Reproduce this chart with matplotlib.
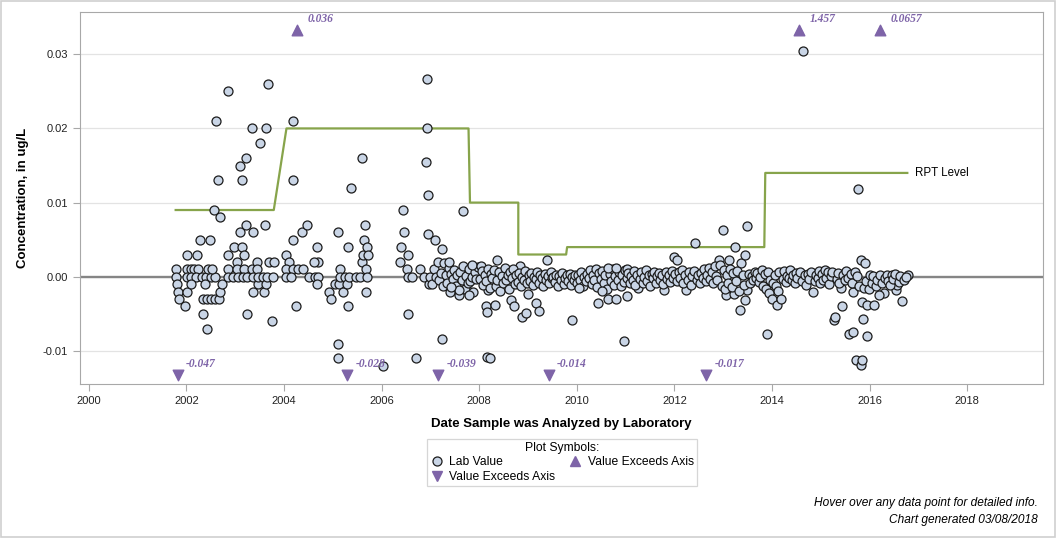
import matplotlib
matplotlib.use("Agg")
from matplotlib import pyplot as plt
from matplotlib.lines import Line2D
import matplotlib.transforms as mtransforms

plt.rcParams['font.family'] = ['Liberation Sans', 'DejaVu Sans']

# lab values, early years (reported to 0.001)
dates_early = [2001.78, 2001.79, 2001.80, 2001.82, 2001.84, 2001.97, 2002.01, 2002.21, 2002.01, 2002.09,
               2002.15, 2002.23, 2002.01, 2002.10, 2002.19, 2002.31, 2002.40, 2002.50, 2002.58, 2002.01,
               2002.09, 2002.27, 2002.48, 2002.38, 2002.33, 2002.42, 2002.50, 2002.58, 2002.66, 2002.68,
               2002.72, 2002.33, 2002.42, 2002.45, 2002.52, 2002.56, 2002.60, 2002.64, 2002.68, 2002.85,
               2002.85, 2002.85, 2002.85, 2002.97, 2003.03, 2003.03, 2002.95, 2003.09, 2003.13, 2003.09,
               2003.13, 2003.17, 2003.17, 2003.05, 2003.15, 2003.23, 2003.23, 2003.25, 2003.34, 2003.34,
               2003.25, 2003.36, 2003.36, 2003.44, 2003.44, 2003.46, 2003.36, 2003.46, 2003.50, 2003.56,
               2003.60, 2003.62, 2003.64, 2003.64, 2003.66, 2003.68, 2003.70, 2003.75, 2003.77, 2003.79,
               2004.05, 2004.11, 2004.05, 2004.18, 2004.28, 2004.38, 2004.05, 2004.15, 2004.18, 2004.18,
               2004.18, 2004.24, 2004.36, 2004.48, 2004.52, 2004.63, 2004.69, 2004.67, 2004.69, 2004.61,
               2004.67, 2004.93, 2004.97, 2005.04, 2005.10, 2005.10, 2005.10, 2005.12, 2005.14, 2005.14,
               2005.20, 2005.24, 2005.30, 2005.32, 2005.32, 2005.34, 2005.38, 2005.47, 2005.55, 2005.59,
               2005.59, 2005.61, 2005.63, 2005.65, 2005.67, 2005.67, 2005.71, 2005.73, 2005.69, 2006.02,
               2006.37, 2006.39, 2006.43, 2006.45, 2006.53, 2006.51, 2006.55, 2006.55, 2006.63, 2006.71,
               2006.78, 2006.90, 2006.92, 2006.92, 2006.94, 2006.94, 2006.86, 2006.98, 2007.10, 2007.23,
               2007.23]
conc_early = [0.001, 0.0, -0.001, -0.002, -0.003, -0.004, 0.003, 0.003, 0.001, 0.001,
              0.001, 0.001, 0.0, 0.0, 0.0, 0.0, 0.0, 0.0, 0.0, -0.002,
              -0.001, 0.005, 0.005, -0.001, -0.003, -0.003, -0.003, -0.003, -0.003, -0.002,
              -0.001, -0.005, -0.007, 0.001, 0.001, 0.009, 0.021, 0.013, 0.008, 0.025,
              0.003, 0.001, 0.0, 0.004, 0.002, 0.001, 0.0, 0.015, 0.013, 0.006,
              0.004, 0.003, 0.001, 0.0, 0.0, 0.016, 0.007, -0.005, 0.020, 0.001,
              0.0, 0.006, -0.002, 0.002, 0.001, -0.001, 0.0, 0.0, 0.018, 0.0,
              -0.002, 0.007, 0.020, -0.001, 0.0, 0.026, 0.002, -0.006, 0.0, 0.002,
              0.003, 0.002, 0.001, 0.001, 0.001, 0.001, 0.0, 0.0, 0.005, 0.021,
              0.013, -0.004, 0.006, 0.007, 0.0, 0.0, 0.0, 0.004, 0.002, 0.002,
              -0.001, -0.002, -0.003, -0.001, 0.006, -0.009, -0.011, -0.001, 0.001, 0.0,
              -0.002, 0.0, -0.001, 0.004, -0.004, 0.0, 0.012, 0.0, 0.0, 0.016,
              0.002, 0.003, 0.005, 0.007, -0.002, 0.001, 0.004, 0.003, 0.0, -0.012,
              0.002, 0.004, 0.009, 0.006, 0.003, 0.001, 0.0, -0.005, 0.0, -0.011,
              0.001, 0.0155, 0.0267, 0.020, 0.011, 0.0058, 0.0, -0.001, 0.0049, 0.0038,
              -0.0084]

# lab values, later years
dates_late = [2007.00, 2007.04, 2007.08, 2007.12, 2007.15, 2007.18, 2007.22, 2007.25, 2007.28, 2007.31,
              2007.34, 2007.37, 2007.40, 2007.43, 2007.46, 2007.49, 2007.52, 2007.55, 2007.58, 2007.61,
              2007.64, 2007.67, 2007.70, 2007.73, 2007.76, 2007.79, 2007.82, 2007.85, 2007.88, 2007.91,
              2007.94, 2007.97, 2007.66, 2007.39, 2007.86, 2008.04, 2008.13, 2008.15, 2008.15, 2008.21,
              2008.33, 2008.37, 2008.17, 2007.80, 2007.59, 2007.43, 2008.66, 2008.72, 2008.84, 2008.88,
              2008.95, 2008.99, 2009.17, 2009.23, 2009.38, 2009.89,
              2008.02, 2008.05, 2008.08, 2008.11, 2008.14, 2008.18, 2008.21, 2008.24, 2008.27, 2008.30,
              2008.34, 2008.37, 2008.40, 2008.43, 2008.46, 2008.49, 2008.52, 2008.55, 2008.58, 2008.61,
              2008.64, 2008.67, 2008.70, 2008.73, 2008.76, 2008.79, 2008.82, 2008.85, 2008.88, 2008.91,
              2008.94, 2008.97,
              2009.01, 2009.04, 2009.07, 2009.10, 2009.13, 2009.16, 2009.19, 2009.22, 2009.25, 2009.28,
              2009.31, 2009.34, 2009.37, 2009.40, 2009.43, 2009.46, 2009.49, 2009.52, 2009.55, 2009.58,
              2009.61, 2009.64, 2009.67, 2009.70, 2009.73, 2009.76, 2009.79, 2009.82, 2009.85, 2009.88,
              2009.91, 2009.94, 2009.97,
              2010.00, 2010.03, 2010.06, 2010.09, 2010.12, 2010.15, 2010.18, 2010.21, 2010.24, 2010.27,
              2010.30, 2010.33, 2010.36, 2010.39, 2010.42, 2010.46, 2010.49, 2010.52, 2010.55, 2010.58,
              2010.61, 2010.67, 2010.70, 2010.73, 2010.76, 2010.79, 2010.84, 2010.87, 2010.90, 2010.93,
              2010.96, 2010.99,
              2010.05, 2010.44, 2010.52, 2010.64, 2010.81, 2011.03, 2010.64, 2010.81, 2011.03, 2010.97,
              2011.26, 2011.79, 2012.00, 2012.06, 2012.24, 2012.43, 2012.92, 2013.00, 2013.06, 2013.12,
              2013.22, 2013.24, 2013.35, 2013.37, 2013.45, 2013.49, 2013.45, 2013.49,
              2011.02, 2011.05, 2011.08, 2011.11, 2011.14, 2011.17, 2011.20, 2011.23, 2011.29, 2011.32,
              2011.35, 2011.38, 2011.41, 2011.44, 2011.47, 2011.50, 2011.53, 2011.56, 2011.59, 2011.62,
              2011.65, 2011.68, 2011.71, 2011.74, 2011.77, 2011.82, 2011.85, 2011.88, 2011.91, 2011.94,
              2011.97,
              2012.02, 2012.05, 2012.09, 2012.12, 2012.15, 2012.18, 2012.21, 2012.27, 2012.30, 2012.33,
              2012.36, 2012.39, 2012.46, 2012.49, 2012.52, 2012.55, 2012.58, 2012.61, 2012.64, 2012.67,
              2012.70, 2012.73, 2012.76, 2012.79, 2012.82, 2012.85, 2012.88, 2012.94, 2012.97,
              2013.02, 2013.04, 2013.08, 2013.10, 2013.14, 2013.17, 2013.20, 2013.26, 2013.29, 2013.32,
              2013.40, 2013.43, 2013.52, 2013.55, 2013.58, 2013.61, 2013.64, 2013.67, 2013.70, 2013.73,
              2013.76, 2013.79,
              2013.82, 2013.85, 2013.88, 2013.92, 2013.96, 2014.02, 2014.05, 2014.08, 2014.12, 2014.15,
              2014.22, 2014.25, 2014.28, 2014.31, 2014.34, 2014.37, 2014.40, 2014.43, 2014.46, 2014.49,
              2014.52, 2014.58, 2014.61, 2014.67, 2014.70, 2014.73, 2014.76, 2014.79, 2014.87, 2014.90,
              2014.93, 2014.96, 2014.99,
              2013.90, 2013.94, 2014.00, 2014.10, 2014.19, 2014.84, 2014.64, 2015.27, 2015.29, 2015.43,
              2015.58, 2015.66, 2015.72, 2015.82, 2015.84, 2015.86, 2015.95, 2015.84, 2015.95, 2016.09,
              2015.76, 2015.82, 2015.91, 2016.66, 2016.79, 2015.66, 2015.41, 2016.54, 2016.56, 2016.29,
              2016.19,
              2015.02, 2015.05, 2015.08, 2015.11, 2015.14, 2015.17, 2015.20, 2015.23, 2015.32, 2015.35,
              2015.38, 2015.46, 2015.49, 2015.52, 2015.55, 2015.61, 2015.64, 2015.69, 2015.74, 2015.79,
              2015.88, 2015.92, 2015.98, 2016.01, 2016.04, 2016.07, 2016.12, 2016.15, 2016.22, 2016.25,
              2016.32, 2016.35, 2016.38, 2016.42, 2016.45, 2016.48, 2016.51, 2016.59, 2016.62, 2016.70,
              2016.74]
conc_late = [0.0, -0.001, 0.001, 0.0, 0.002, -0.0005, 0.0005, -0.0013, 0.0019, 0.0002,
             -0.0008, 0.0012, -0.002, 0.0004, -0.0003, 0.0009, -0.0012, 0.0003, -0.0025, 0.0006,
             -0.0004, 0.0015, -0.0017, 0.0001, -0.0009, 0.0011, -0.0006, 0.0, -0.0021, 0.0007,
             -0.0003, 0.0013, 0.0088, 0.002, 0.0016, 0.0014, -0.004, -0.0047, -0.0108, -0.011,
             -0.0038, 0.0023, -0.0018, -0.0024, -0.0018, -0.0014, -0.0031, -0.0039, 0.0014, -0.0054,
             -0.0049, -0.0023, -0.0036, -0.0046, 0.0022, -0.0058,
             -0.0003, 0.0008, -0.0011, 0.0002, -0.0006, 0.0011, -0.0015, 0.0004, -0.0002, 0.0009,
             -0.0012, -0.0004, 0.0006, -0.0019, 0.0001, -0.0008, 0.0012, -0.0005, 0.0003, -0.0016,
             0.0007, -0.0002, 0.001, -0.001, 0.0003, -0.0007, 0.0005, -0.0013, 0.0, -0.0004,
             0.0008, -0.0009,
             0.0002, -0.0006, 0.0005, -0.0011, 0.0, -0.0003, 0.0007, -0.0008, 0.0003, -0.0001,
             -0.0012, 0.0004, -0.0005, 0.0001, -0.0009, 0.0006, -0.0002, 0.0, -0.0007, 0.0003,
             -0.0013, 0.0001, -0.0004, 0.0005, -0.001, -0.0002, 0.0002, -0.0006, 0.0004, -0.0011,
             0.0, -0.0005, 0.0003,
             -0.0008, 0.0002, -0.0004, 0.0006, -0.0012, 0.0, -0.0006, 0.0004, -0.0002, 0.0009,
             -0.001, 0.0003, -0.0005, 0.0011, -0.0014, 0.0005, -0.0003, 0.0008, -0.0009, 0.0002,
             -0.0017, 0.0004, -0.0006, 0.001, -0.0011, 0.0001, -0.0004, 0.0007, -0.0013, 0.0003,
             -0.0007, 0.0009,
             -0.0015, -0.0036, -0.0019, -0.003, -0.003, -0.0026, 0.0012, 0.0012, 0.0011, -0.0087,
             -0.0015, -0.0018, 0.0027, 0.0022, -0.0018, 0.0045, 0.0022, 0.0063, -0.0024, 0.0022,
             -0.0023, 0.004, -0.0045, 0.0018, -0.0031, 0.0068, 0.003, -0.0018,
             -0.0002, 0.0005, -0.0009, 0.0001, -0.0005, 0.0008, -0.0011, 0.0003, -0.0003, 0.0006,
             -0.0008, 0.0, 0.0009, -0.0006, 0.0002, -0.0012, 0.0004, -0.0002, 0.0007, -0.0009,
             0.0001, 0.0005, -0.0005, 0.0003, -0.001, 0.0006, -0.0003, 0.0002, -0.0007, 0.0008,
             -0.0001,
             0.0004, -0.0006, 0.0007, -0.0002, 0.0009, -0.0009, 0.0003, -0.0004, 0.0006, -0.0011,
             0.0001, 0.0008, -0.0005, 0.0003, -0.0008, 0.0005, -0.0001, 0.001, -0.0006, 0.0002,
             0.0012, -0.0003, 0.0007, -0.0009, 0.0014, 0.0001, -0.0005, 0.0016, -0.0012,
             0.0009, -0.0017, 0.0003, -0.0008, 0.0011, -0.0014, 0.0005, -0.0006, 0.0008, -0.0019,
             0.0002, -0.0011, 0.0004, -0.0009, 0.0001, -0.0004, 0.0007, -0.0002, 0.0005, -0.0007,
             0.0, 0.0009,
             -0.0012, 0.0004, -0.0016, 0.0007, -0.0005, -0.0009, 0.0002, -0.0013, -0.0019, 0.0006,
             -0.0003, 0.0008, -0.0007, 0.0001, -0.0002, 0.0009, -0.0005, 0.0003, -0.0009, 0.0005,
             -0.0001, 0.0007, -0.0006, 0.0002, -0.0011, 0.0004, -0.0003, 0.0006, -0.0006, 0.0003,
             -0.0001, 0.0008, -0.0008,
             -0.0077, -0.0022, -0.003, -0.0038, -0.003, -0.002, 0.0304, -0.0058, -0.0054, -0.004,
             -0.0077, -0.0074, -0.0112, -0.0119, -0.0112, -0.0057, -0.008, -0.0034, -0.0038, -0.0038,
             0.0119, 0.0022, 0.0019, -0.0033, 0.0002, -0.002, -0.0015, -0.0018, -0.0011, -0.0022,
             -0.0024,
             0.0004, -0.0004, 0.0009, -0.0002, 0.0006, -0.001, 0.0001, 0.0007, -0.0003, 0.0005,
             -0.0008, 0.0002, -0.0005, 0.0008, -0.0001, 0.0004, -0.0009, 0.0006, 0.0001, -0.0012,
             -0.0015, -0.0006, -0.0017, 0.0003, -0.0009, 0.0001, -0.0013, -0.0004, 0.0002, -0.0008,
             -0.0001, 0.0003, -0.0006, -0.0011, 0.0002, -0.0003, 0.0004, -0.0007, 0.0001, -0.0004,
             0.0]

# RPT level steps
rpt_dates = [2001.78, 2003.79, 2004.05, 2007.78, 2007.81, 2008.80, 2008.80, 2009.78, 2009.80, 2013.84,
             2013.86, 2016.77]
rpt_vals = [0.009, 0.009, 0.02, 0.02, 0.01, 0.01, 0.003, 0.003, 0.004, 0.004, 0.014, 0.014]

# off-scale values
high_dates = [2004.26, 2014.55, 2016.21]
high_labels = ["0.036", "1.457", "0.0657"]
low_dates = [2001.82, 2005.30, 2007.16, 2009.42, 2012.65]
low_labels = ["-0.047", "-0.028", "-0.039", "-0.014", "-0.017"]

purple = "#7E64A8"
green = "#87A44B"

fig = plt.figure(figsize=(10.56, 5.38), dpi=100)
ax = fig.add_axes([80 / 1056, 1 - 384 / 538, 963 / 1056, 372 / 538])

ax.set_xlim(1999.82, 2019.55)
ax.set_ylim(-0.01446, 0.0357)
ax.set_yticks([-0.01, 0.0, 0.01, 0.02, 0.03])
ax.set_yticklabels(["-0.01", "0.00", "0.01", "0.02", "0.03"])
ax.set_xticks(range(2000, 2019, 2))
ax.grid(axis='y', color='#E3E3E3', linewidth=0.9)
ax.set_axisbelow(True)
for s in ax.spines.values():
    s.set_color('#A8A8A8')
ax.tick_params(colors='#A8A8A8', labelcolor='#222222', labelsize=8, length=5)

ax.axhline(0, color='#858585', linewidth=1.7, zorder=1)
ax.plot(rpt_dates, rpt_vals, color=green, linewidth=1.6, zorder=2)
ax.text(2016.93, 0.014, "RPT Level", fontsize=8.3, va='center', ha='left')

ax.scatter(dates_early + dates_late, conc_early + conc_late, s=42, facecolor='#C9D5E6',
           edgecolor='#1C1C1C', linewidth=0.9, zorder=3)

trans = mtransforms.blended_transform_factory(ax.transData, ax.transAxes)
up_y = 1 - 18 / 372
down_y = 9 / 372
ax.scatter(high_dates, [up_y] * len(high_dates), marker='^', s=58, color=purple,
           transform=trans, zorder=4, clip_on=False)
ax.scatter(low_dates, [down_y] * len(low_dates), marker='v', s=58, color=purple,
           transform=trans, zorder=4, clip_on=False)
for d, t in zip(high_dates, high_labels):
    ax.annotate(t, (d, up_y), xycoords=trans, xytext=(8, 8), textcoords='offset points',
                color=purple, fontsize=8.3, fontweight='bold', fontstyle='italic',
                family='Liberation Serif', va='center', ha='left')
for d, t in zip(low_dates, low_labels):
    ax.annotate(t, (d, down_y), xycoords=trans, xytext=(6, 8), textcoords='offset points',
                color=purple, fontsize=8.3, fontweight='bold', fontstyle='italic',
                family='Liberation Serif', va='center', ha='left')

ax.set_ylabel("Concentration, in ug/L", fontsize=9.5, fontweight='bold', labelpad=10)
ax.set_xlabel("Date Sample was Analyzed by Laboratory", fontsize=9.5, fontweight='bold', labelpad=9)

handles = [
    Line2D([], [], marker='o', linestyle='none', markersize=6.5, markerfacecolor='#C9D5E6',
           markeredgecolor='#1C1C1C', markeredgewidth=0.9, label='Lab Value'),
    Line2D([], [], marker='v', linestyle='none', markersize=7.5, color=purple, label='Value Exceeds Axis'),
    Line2D([], [], marker='^', linestyle='none', markersize=7.5, color=purple, label='Value Exceeds Axis'),
]
leg = fig.legend(handles=handles, ncol=2, title="Plot Symbols:", loc='upper center',
                 bbox_to_anchor=(562 / 1056, 1 - 439 / 538), fontsize=8.7, title_fontsize=8.7,
                 frameon=True, fancybox=False, edgecolor='#CCCCCC', borderpad=0.25,
                 handletextpad=0.5, columnspacing=1.1, labelspacing=0.2, handlelength=1.1,
                 borderaxespad=0)
leg.get_frame().set_linewidth(0.9)

fig.text(1038 / 1056, 1 - 503 / 538, "Hover over any data point for detailed info.",
         ha='right', va='center', fontsize=8.6, fontstyle='italic')
fig.text(1038 / 1056, 1 - 520 / 538, "Chart generated 03/08/2018",
         ha='right', va='center', fontsize=8.6, fontstyle='italic')

fig.patches.append(plt.Rectangle((0.0005, 0.001), 0.999, 0.998, transform=fig.transFigure,
                                 fill=False, edgecolor='#CFCFCF', linewidth=1.2))

fig.savefig("out.png", dpi=100)
